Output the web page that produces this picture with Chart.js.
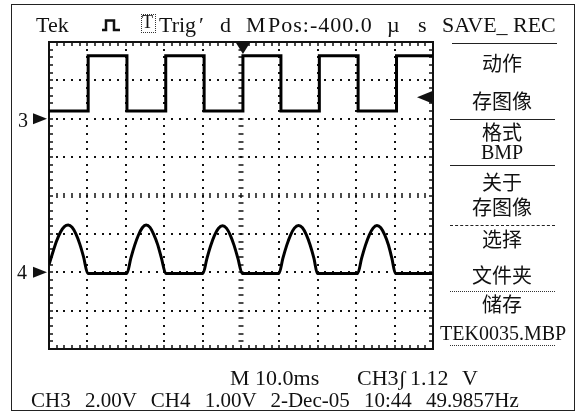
<!DOCTYPE html>
<html>
<head>
<meta charset="utf-8">
<script src="https://cdn.jsdelivr.net/npm/chart.js@4"></script>
<style>
html, body { margin: 0; padding: 0; background: #fff; }
#wrap { position: relative; width: 585px; height: 414px; overflow: hidden; }
#scope { position: absolute; left: 0; top: 0; }
#frame { position: absolute; left: 11px; top: 4px; width: 564px; height: 407px;
         box-sizing: border-box; border: 1.5px solid #222; }
.t { position: absolute; white-space: pre; font-family: 'Liberation Serif', serif;
     color: #111; line-height: 1; }
.hd { top: 13.5px; font-size: 22px; }
.m { position: absolute; left: 440px; width: 124px; text-align: center; line-height: 1;
     font-family: 'Noto Sans CJK SC', sans-serif; font-size: 20px; color: #111; }
.ml { font-family: 'Liberation Serif', serif; }
.rule { position: absolute; left: 450px; width: 105px; height: 0; border-top: 1.5px solid #222; }
.box { position: absolute; left: 141px; top: 14px; width: 13px; height: 17px;
       border: 1px dotted #333; }
</style>
</head>
<body>
<div id="wrap">
  <canvas id="scope" width="585" height="414"></canvas>
  <div id="frame"></div>

  <!-- header -->
  <span class="t hd" style="left:36px">Tek</span>
  <svg style="position:absolute;left:102px;top:19px" width="18" height="13">
    <polyline points="0,11 4,11 4,1.5 12,1.5 12,11 18,11" fill="none" stroke="#111" stroke-width="2.5"/>
  </svg>
  <div class="box"></div>
  <span class="t" style="left:142px;top:13px;font-size:18px">T</span>
  <span class="t hd" style="left:159px">Trig</span>
  <span class="t hd" style="left:199px">′</span>
  <span class="t hd" style="left:220px">d</span>
  <span class="t hd" style="left:246px">M</span>
  <span class="t hd" style="left:268px;letter-spacing:1px">Pos:-400.0</span>
  <span class="t hd" style="left:387px">µ</span>
  <span class="t hd" style="left:418px">s</span>
  <span class="t hd" style="left:442px">SAVE_</span>
  <span class="t hd" style="left:513px">REC</span>

  <!-- ground labels -->
  <span class="t" style="left:18px;top:110px;font-size:20px">3</span>
  <span class="t" style="left:17px;top:262px;font-size:20px">4</span>

  <!-- side menu -->
  <div class="rule" style="top:43px;left:452px"></div>
  <div class="m" style="top:52.5px">动作</div>
  <div class="m" style="top:90.5px">存图像</div>
  <div class="rule" style="top:119px"></div>
  <div class="m" style="top:122px">格式</div>
  <div class="m ml" style="top:141.5px">BMP</div>
  <div class="rule" style="top:165px"></div>
  <div class="m" style="top:171.5px">关于</div>
  <div class="m" style="top:196.5px">存图像</div>
  <div class="rule" style="top:225px;border-top-style:dashed"></div>
  <div class="m" style="top:229px">选择</div>
  <div class="m" style="top:264.5px">文件夹</div>
  <div class="rule" style="top:291px;border-top:1.5px dotted #333"></div>
  <div class="m" style="top:294px">储存</div>
  <div class="m ml" style="top:323px;font-size:20px">TEK0035.MBP</div>
  <div class="rule" style="top:345px;border-top:1.5px dotted #333"></div>

  <!-- bottom readout -->
  <span class="t" style="left:230px;top:366.5px;font-size:22px">M 10.0ms</span>
  <span class="t" style="left:357px;top:366.5px;font-size:22px">CH3ʃ</span>
  <span class="t" style="left:410px;top:366.5px;font-size:22px">1.12</span>
  <span class="t" style="left:462px;top:366.5px;font-size:22px">V</span>
  <span class="t" style="left:31px;top:389.5px;font-size:21px;word-spacing:9px">CH3 2.00V CH4 1.00V 2-Dec-05 10:44 49.9857Hz</span>
</div>

<script>
// time axis in ms (10 ms/div), CH3 at 2 V/div, CH4 at 1 V/div
const ch3Times = [0, 10.2, 20.3, 30.4, 40.4, 50.5, 60.4, 70.4, 80.5, 90.5, 100];
const ch3Volts = [0.4, 3.28, 0.4, 3.28, 0.4, 3.28, 0.4, 3.28, 0.4, 3.28, 3.28];

const ch4Times = [
    0, 1, 2, 3, 4, 5, 6, 7, 8, 9, 10.1,
    20.3, 21.3, 22.3, 23.3, 24.3, 25.3, 26.3, 27.3, 28.3, 29.3, 30.4,
    40.1, 41.1, 42.1, 43.1, 44.1, 45.2, 46.2, 47.2, 48.2, 49.2, 50.3,
    59.9, 60.9, 61.9, 62.9, 63.9, 65.0, 66.0, 67.0, 68.0, 69.0, 69.9,
    80.4, 81.4, 82.4, 83.4, 84.4, 85.4, 86.4, 87.4, 88.4, 89.3, 90.2,
    100
];
const ch4Volts = [
    0.20, 0.52, 0.82, 1.05, 1.19, 1.23, 1.17, 1.00, 0.74, 0.40, -0.03,
    -0.03, 0.36, 0.70, 0.97, 1.16, 1.23, 1.17, 0.98, 0.72, 0.36, -0.03,
    -0.03, 0.35, 0.69, 0.96, 1.14, 1.21, 1.15, 0.97, 0.70, 0.36, -0.03,
    -0.03, 0.36, 0.70, 0.97, 1.15, 1.22, 1.16, 0.98, 0.71, 0.36, -0.03,
    -0.03, 0.36, 0.70, 0.97, 1.15, 1.22, 1.16, 0.98, 0.71, 0.36, -0.03,
    -0.03
];

const trigTime  = 50.5;   // ms
const trigLevel = 1.12;   // V on CH3

const INK = '#111';

function pts(xs, ys) {
    return xs.map((x, i) => ({ x, y: ys[i] }));
}

// scope graticule: 10 x 8 divisions, 5 minor steps per division
const graticule = {
    id: 'graticule',
    beforeDatasetsDraw(chart) {
        const { ctx, chartArea: a, scales: { x, y4 } } = chart;
        const px = i => x.getPixelForValue(i * 2);
        const py = j => y4.getPixelForValue(-2 + j * 0.2);
        ctx.save();
        ctx.fillStyle = INK;
        ctx.strokeStyle = INK;

        // dotted division lines
        for (let i = 5; i < 50; i += 5) {
            if (i === 25) continue;
            for (let j = 0; j <= 40; j++) ctx.fillRect(Math.round(px(i)) - 1, Math.round(py(j)) - 1, 2, 2);
        }
        for (let j = 5; j < 40; j += 5) {
            if (j === 20) continue;
            for (let i = 0; i <= 50; i++) ctx.fillRect(Math.round(px(i)) - 1, Math.round(py(j)) - 1, 2, 2);
        }

        // centre cross with minor ticks
        ctx.lineWidth = 1.5;
        ctx.beginPath();
        for (let j = 0; j <= 40; j++) {
            const y = Math.round(py(j));
            ctx.moveTo(px(25) - 2.5, y); ctx.lineTo(px(25) + 2.5, y);
        }
        for (let i = 0; i <= 50; i++) {
            const xx = Math.round(px(i));
            ctx.moveTo(xx, py(20) - 2.5); ctx.lineTo(xx, py(20) + 2.5);
        }
        // border ticks
        for (let i = 0; i <= 50; i++) {
            const xx = Math.round(px(i));
            ctx.moveTo(xx, a.top); ctx.lineTo(xx, a.top + 4);
            ctx.moveTo(xx, a.bottom); ctx.lineTo(xx, a.bottom - 4);
        }
        for (let j = 0; j <= 40; j++) {
            const y = Math.round(py(j));
            ctx.moveTo(a.left, y); ctx.lineTo(a.left + 4, y);
            ctx.moveTo(a.right, y); ctx.lineTo(a.right - 4, y);
        }
        ctx.stroke();

        ctx.lineWidth = 2;
        ctx.strokeRect(a.left, a.top, a.right - a.left, a.bottom - a.top);
        ctx.restore();
    },
    afterDraw(chart) {
        const { ctx, chartArea: a, scales: { x, y3, y4 } } = chart;
        ctx.save();
        ctx.fillStyle = INK;
        const tri = p => {
            ctx.beginPath();
            ctx.moveTo(p[0], p[1]); ctx.lineTo(p[2], p[3]); ctx.lineTo(p[4], p[5]);
            ctx.closePath(); ctx.fill();
        };
        // trigger position
        const tx = x.getPixelForValue(trigTime);
        tri([tx - 7.5, a.top, tx + 7.5, a.top, tx, a.top + 12]);
        // trigger level
        const ty = y3.getPixelForValue(trigLevel);
        tri([a.right - 16, ty, a.right, ty - 6.5, a.right, ty + 6.5]);
        // channel ground markers
        [y3.getPixelForValue(0), y4.getPixelForValue(0)].forEach(g => {
            tri([a.left - 2, g, a.left - 16, g - 5.5, a.left - 16, g + 5.5]);
        });
        ctx.restore();
    }
};

new Chart(document.getElementById('scope'), {
    type: 'line',
    data: {
        datasets: [
            {
                data: pts(ch3Times, ch3Volts), yAxisID: 'y3',
                stepped: true, borderColor: '#000', borderWidth: 3, pointRadius: 0,
            },
            {
                data: pts(ch4Times, ch4Volts), yAxisID: 'y4',
                cubicInterpolationMode: 'monotone', borderColor: '#000', borderWidth: 3, pointRadius: 0,
            }
        ]
    },
    options: {
        responsive: false, animation: false, events: [],
        layout: { padding: { left: 49, right: 152, top: 42, bottom: 65 } },
        scales: {
            x:  { type: 'linear', min: 0, max: 100, display: false },
            y3: { min: -12, max: 4, display: false },
            y4: { min: -2, max: 6, display: false },
        },
        plugins: { legend: { display: false }, tooltip: { enabled: false } }
    },
    plugins: [graticule]
});
</script>
</body>
</html>
